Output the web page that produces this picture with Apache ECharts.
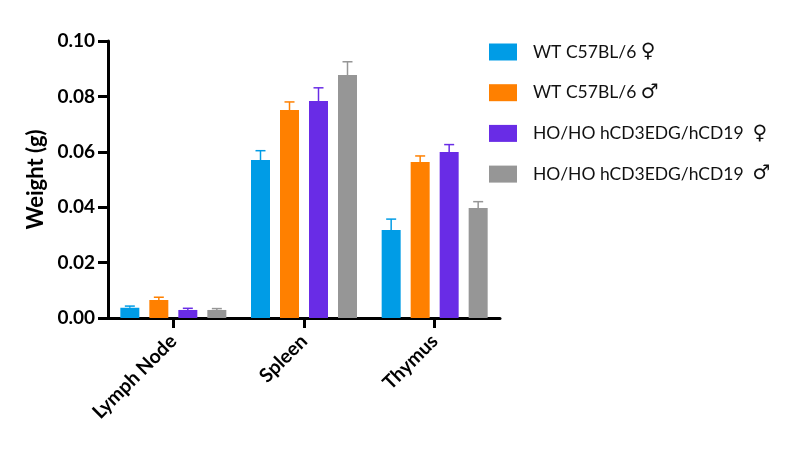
<!DOCTYPE html>
<html><head><meta charset="utf-8">
<script src="https://cdn.jsdelivr.net/npm/echarts@6/dist/echarts.min.js"></script>
<style>html,body{margin:0;padding:0;background:#fff}#c{width:788px;height:454px}</style>
</head><body><div id="c"></div>
<script>
const categories = ['Lymph Node', 'Spleen', 'Thymus'];
const seriesNames = ['WT C57BL/6 \u2640', 'WT C57BL/6 \u2642', 'HO/HO hCD3EDG/hCD19 \u2640', 'HO/HO hCD3EDG/hCD19 \u2642'];
const wtFemale = [0.0037, 0.0570, 0.0318];
const wtMale = [0.0065, 0.0751, 0.0563];
const hoFemale = [0.0029, 0.0783, 0.0599];
const hoMale = [0.0029, 0.0877, 0.0397];
const wtFemaleErr = [0.0006, 0.0034, 0.0039];
const wtMaleErr = [0.0010, 0.0029, 0.0022];
const hoFemaleErr = [0.0006, 0.0048, 0.0027];
const hoMaleErr = [0.0005, 0.0048, 0.0023];
const yTicks = [0, 0.02, 0.04, 0.06, 0.08, 0.10];

const colors = ['#009ce6', '#ff8000', '#692ce6', '#969696'];
const values = [wtFemale, wtMale, hoFemale, hoMale];
const errs = [wtFemaleErr, wtMaleErr, hoFemaleErr, hoMaleErr];
const BAR_W = 19, GAP = 10;
const font = 'Lato';

const series = [];
values.forEach((v, i) => {
  series.push({
    name: seriesNames[i], type: 'bar', data: v, barWidth: BAR_W, barGap: (GAP / BAR_W * 100) + '%',
    itemStyle: { color: colors[i] }, z: 2
  });
});
values.forEach((v, i) => {
  series.push({
    name: 'err' + i, type: 'custom', z: 1,
    data: v.map((val, j) => [j, val, val + errs[i][j]]),
    renderItem: function (params, api) {
      const x = api.value(0);
      const base = api.coord([x, api.value(1)]);
      const top = api.coord([x, api.value(2)]);
      const cx = base[0] + (i - 1.5) * (BAR_W + GAP);
      const capHalf = 5;
      return {
        type: 'group', children: [
          { type: 'line', shape: { x1: cx, y1: base[1], x2: cx, y2: top[1] }, style: { stroke: colors[i], lineWidth: 1.5 } },
          { type: 'line', shape: { x1: cx - capHalf, y1: top[1], x2: cx + capHalf, y2: top[1] }, style: { stroke: colors[i], lineWidth: 1.5 } }
        ]
      };
    }
  });
});

const chart = echarts.init(document.getElementById('c'));
chart.setOption({
  animation: false,
  textStyle: { fontFamily: font },
  grid: { left: 108, right: 288, top: 41, bottom: 136 },
  legend: {
    data: seriesNames, orient: 'vertical', left: 489, top: 42, padding: 0,
    itemWidth: 28, itemHeight: 17, itemGap: 20.7, icon: 'rect',
    formatter: function (name) {
      const sym = name.slice(-1);
      const txt = name.slice(0, -1);
      return txt + (name.indexOf('HO') === 0 ? ' ' : '') + '{s|' + sym + '}';
    },
    textStyle: {
      fontFamily: font, fontSize: 17.5, color: '#111', lineHeight: 17, padding: [0, 0, 0, 11],
      rich: { s: { fontFamily: 'DejaVu Sans', fontSize: 20, color: '#111', lineHeight: 17 } }
    }
  },
  xAxis: {
    type: 'category', data: categories,
    axisLine: { lineStyle: { color: '#000', width: 3 } },
    axisTick: { show: true, alignWithLabel: true, length: 10, lineStyle: { color: '#000', width: 3 } },
    axisLabel: { rotate: 45, margin: 20, color: '#000', fontSize: 19.5, fontWeight: 'bold', fontFamily: font }
  },
  yAxis: {
    type: 'value', min: 0, max: 0.1, interval: 0.02,
    name: 'Weight (g)', nameLocation: 'middle', nameGap: 61,
    nameTextStyle: { fontSize: 22, fontWeight: 'bold', color: '#000', fontFamily: font },
    axisLine: { show: true, lineStyle: { color: '#000', width: 3 } },
    axisTick: { show: true, length: 10, lineStyle: { color: '#000', width: 3 } },
    splitLine: { show: false },
    axisLabel: {
      margin: 13, color: '#000', fontSize: 19, fontWeight: 'bold', fontFamily: font,
      formatter: function (v) {
        const t = yTicks.find(t => Math.abs(t - v) < 1e-9);
        return (t !== undefined ? t : v).toFixed(2);
      }
    }
  },
  series: series
});
</script></body></html>
